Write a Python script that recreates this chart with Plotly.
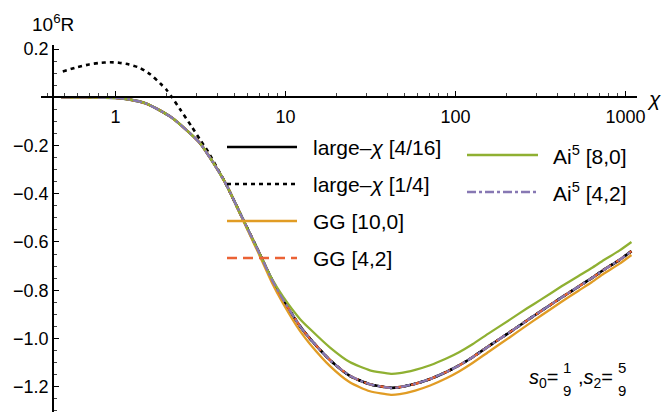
import plotly.graph_objects as go

# ---------------- data ----------------
chi = [0.48, 0.6, 0.8, 1.0, 1.22, 1.5, 1.83, 2.15, 2.56, 3.14, 3.75, 4.47, 5.4, 6.9, 8.3,
       9.7, 12.2, 13.9, 18.3, 23.9, 31.4, 41.8, 47, 58, 71, 89, 105, 126, 157, 208, 264,
       318, 421, 530, 633, 747, 920, 1085]

large_chi_4_16 = [0, 0, -0.001, -0.003, -0.01, -0.025, -0.055, -0.085, -0.13, -0.19, -0.27,
                  -0.36, -0.48, -0.635, -0.755, -0.84, -0.95, -1.0, -1.09, -1.155, -1.19,
                  -1.205, -1.202, -1.188, -1.168, -1.138, -1.112, -1.078, -1.032, -0.975,
                  -0.925, -0.887, -0.83, -0.785, -0.75, -0.715, -0.675, -0.638]

gg_10_0 = [0, 0, -0.001, -0.003, -0.01, -0.025, -0.055, -0.085, -0.13, -0.19, -0.27,
           -0.36, -0.483, -0.643, -0.767, -0.856, -0.97, -1.022, -1.115, -1.182, -1.219,
           -1.234, -1.231, -1.216, -1.195, -1.164, -1.137, -1.102, -1.055, -0.996,
           -0.945, -0.906, -0.848, -0.802, -0.767, -0.731, -0.691, -0.654]

gg_4_2 = [0, 0, -0.001, -0.003, -0.01, -0.025, -0.055, -0.085, -0.13, -0.19, -0.27,
          -0.36, -0.48, -0.635, -0.755, -0.84, -0.95, -1.0, -1.09, -1.155, -1.19,
          -1.205, -1.202, -1.188, -1.168, -1.138, -1.112, -1.078, -1.032, -0.975,
          -0.925, -0.887, -0.83, -0.785, -0.75, -0.715, -0.675, -0.638]

ai5_8_0 = [0, 0, -0.001, -0.003, -0.01, -0.025, -0.055, -0.085, -0.13, -0.19, -0.27,
           -0.36, -0.48, -0.635, -0.751, -0.828, -0.92, -0.96, -1.038, -1.098, -1.132,
           -1.147, -1.144, -1.13, -1.111, -1.082, -1.057, -1.024, -0.979, -0.923,
           -0.875, -0.839, -0.784, -0.741, -0.708, -0.675, -0.636, -0.60]

ai5_4_2 = [0, 0, -0.001, -0.003, -0.01, -0.025, -0.055, -0.085, -0.13, -0.19, -0.27,
           -0.36, -0.48, -0.635, -0.755, -0.84, -0.95, -1.0, -1.09, -1.155, -1.19,
           -1.205, -1.202, -1.188, -1.168, -1.138, -1.112, -1.078, -1.032, -0.975,
           -0.925, -0.887, -0.83, -0.785, -0.75, -0.715, -0.675, -0.638]

chi_dotted = [0.49, 0.6, 0.7, 0.8, 0.93, 1.05, 1.2, 1.39, 1.6, 1.83, 2.0, 2.15, 2.4, 2.82,
              3.14, 3.5, 3.75, 4.0, 4.47, 5.4, 6.9, 8.3, 9.7, 12.2, 13.9, 18.3, 23.9, 31.4,
              41.8, 47, 58, 71, 89, 105, 126, 157, 208, 264, 318, 421, 530, 633, 747, 920, 1085]
large_chi_1_4 = [0.107, 0.125, 0.136, 0.142, 0.145, 0.143, 0.136, 0.122, 0.095, 0.058, 0.03,
                 0.0, -0.05, -0.124, -0.175, -0.225, -0.262, -0.298, -0.36, -0.48, -0.635,
                 -0.755, -0.84, -0.95, -1.0, -1.09, -1.155, -1.19, -1.205, -1.202, -1.188,
                 -1.168, -1.138, -1.112, -1.078, -1.032, -0.975, -0.925, -0.887, -0.83,
                 -0.785, -0.75, -0.715, -0.675, -0.638]

x_tick_vals = [1, 10, 100, 1000]
x_tick_text = ["1", "10", "100", "1000"]
x_minor_vals = [0.4, 0.5, 0.6, 0.7, 0.8, 0.9, 2, 3, 4, 5, 6, 7, 8, 9, 20, 30, 40, 50, 60,
                70, 80, 90, 200, 300, 400, 500, 600, 700, 800, 900]
y_tick_vals = [0.2, -0.2, -0.4, -0.6, -0.8, -1.0, -1.2]
y_tick_text = ["0.2", "\u22120.2", "\u22120.4", "\u22120.6", "\u22120.8", "\u22121.0", "\u22121.2"]
y_minor_vals = [0.15, 0.1, 0.05, -0.05, -0.1, -0.15, -0.25, -0.3, -0.35, -0.45, -0.5, -0.55,
                -0.65, -0.7, -0.75, -0.85, -0.9, -0.95, -1.05, -1.1, -1.15, -1.25, -1.3]

names = ["large\u2013<i>\u03c7</i> [4/16]", "large\u2013<i>\u03c7</i> [1/4]", "GG [10,0]",
         "GG [4,2]", "Ai<sup>5</sup> [8,0]", "Ai<sup>5</sup> [4,2]"]
colors = ["#000000", "#000000", "#E19C24", "#EB6235", "#8FB032", "#8778B3"]
dashes = ["solid", "4px,4px", "solid", "10px,6px", "solid", "9px,3px,3px,3px"]
widths = [2.6, 2.6, 2.3, 2.3, 2.3, 2.3]

series_x = [chi, chi_dotted, chi, chi, chi, chi]
series_y = [large_chi_4_16, large_chi_1_4, gg_10_0, gg_4_2, ai5_8_0, ai5_4_2]

# ---------------- layout geometry ----------------
W, H = 664, 412
ML, MR, MT, MB = 41, 27, 45, 0
PW, PH = W - ML - MR, H - MT - MB
XR = [-0.438, 3.068]
YR = [-1.305, 0.2166]

def px(p):
    return (p - ML) / PW

def py(p):
    return (H - MB - p) / PH

fig = go.Figure()
for xs, ys, n, c, d, w in zip(series_x, series_y, names, colors, dashes, widths):
    fig.add_trace(go.Scatter(x=xs, y=ys, mode="lines", name=n, showlegend=False,
                             line=dict(color=c, dash=d, width=w, shape="spline", smoothing=0.6)))

FONT = "Liberation Sans, Arial, sans-serif"

# custom legend (Mathematica style, two columns)
leg_rows = [(227, 297, 311, 147), (227, 297, 311, 184), (227, 297, 311, 221),
            (227, 297, 311, 258), (467, 538, 551, 155), (467, 538, 551, 192)]
shapes = []
annotations = []
for (x0, x1, xt, yy), n, c, d, w in zip(leg_rows, names, colors, dashes, widths):
    shapes.append(dict(type="line", xref="paper", yref="paper", x0=px(x0), x1=px(x1),
                       y0=py(yy), y1=py(yy), line=dict(color=c, width=w, dash=d)))
    annotations.append(dict(xref="paper", yref="paper", x=px(xt), y=py(yy), text=n,
                            showarrow=False, xanchor="left", yanchor="middle",
                            font=dict(size=21, color="black", family=FONT)))

# axis titles
annotations.append(dict(xref="paper", yref="paper", x=px(30), y=py(23),
                        text="10<sup>6</sup>R", showarrow=False, xanchor="left",
                        yanchor="middle", font=dict(size=19, color="black", family=FONT)))
annotations.append(dict(xref="paper", yref="paper", x=px(654), y=py(98),
                        text="<i>\u03c7</i>", showarrow=False, xanchor="center",
                        yanchor="middle", font=dict(size=21, color="black", family=FONT)))

# parameter label s0 = 1/9, s2 = 5/9
annotations.append(dict(xref="paper", yref="paper", x=px(560), y=py(378),
                        text="<i>s</i><sub>0</sub>=", showarrow=False, xanchor="right",
                        yanchor="middle", font=dict(size=20, color="black", family=FONT)))
annotations.append(dict(xref="paper", yref="paper", x=px(615), y=py(378),
                        text=",<i>s</i><sub>2</sub>=", showarrow=False, xanchor="right",
                        yanchor="middle", font=dict(size=20, color="black", family=FONT)))
for xx, num, den in [(567, "1", "9"), (622, "5", "9")]:
    annotations.append(dict(xref="paper", yref="paper", x=px(xx), y=py(367), text=num,
                            showarrow=False, xanchor="center", yanchor="middle",
                            font=dict(size=15, color="black", family=FONT)))
    annotations.append(dict(xref="paper", yref="paper", x=px(xx), y=py(390), text=den,
                            showarrow=False, xanchor="center", yanchor="middle",
                            font=dict(size=15, color="black", family=FONT)))

x_pos = (0 - YR[0]) / (YR[1] - YR[0])
y_pos = (-0.3675 - XR[0]) / (XR[1] - XR[0])

fig.update_layout(
    width=W, height=H, margin=dict(l=ML, r=MR, t=MT, b=MB),
    paper_bgcolor="white", plot_bgcolor="white",
    font=dict(family=FONT, size=18, color="black"),
    shapes=shapes, annotations=annotations,
    xaxis=dict(type="log", range=XR, anchor="free", position=x_pos, showgrid=False,
               zeroline=False, showline=True, linecolor="black", linewidth=1.5,
               ticks="inside", ticklen=5, tickwidth=1, tickcolor="black",
               tickvals=x_tick_vals, ticktext=x_tick_text, ticklabelstandoff=3,
               tickfont=dict(size=18, color="black"),
               minor=dict(ticks="inside", ticklen=3, tickwidth=0.8, tickcolor="#444",
                          tickvals=x_minor_vals, showgrid=False)),
    yaxis=dict(range=YR, anchor="free", position=y_pos, showgrid=False, zeroline=False,
               showline=True, linecolor="black", linewidth=1.5, ticks="inside",
               ticklen=5, tickwidth=1, tickcolor="black", tickvals=y_tick_vals,
               ticktext=y_tick_text, tickfont=dict(size=18, color="black"),
               minor=dict(ticks="inside", ticklen=3, tickwidth=0.8, tickcolor="#444",
                          tickvals=y_minor_vals, showgrid=False)),
)

fig.write_html("out.html")
